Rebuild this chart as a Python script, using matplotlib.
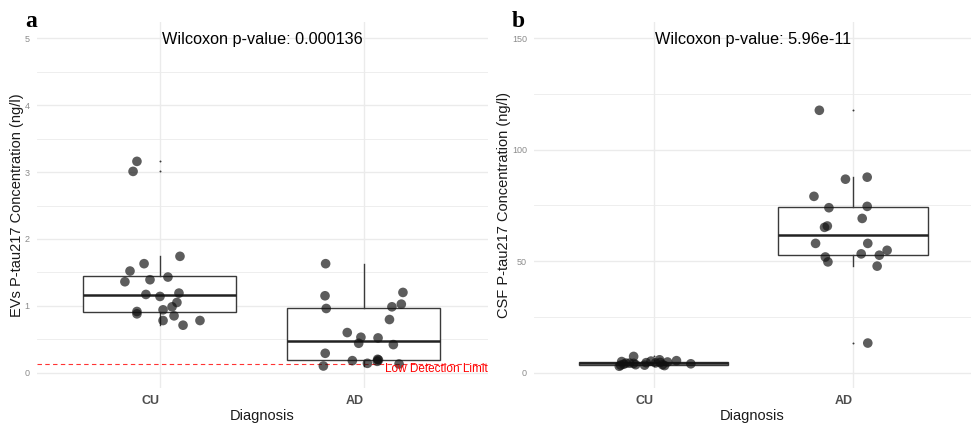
import matplotlib
matplotlib.use("Agg")
import matplotlib.pyplot as plt
import matplotlib.transforms as mtransforms
from matplotlib.ticker import MultipleLocator

plt.rcParams['font.family'] = ['Liberation Sans', 'DejaVu Sans']

categories = ["CU", "AD"]

# Panel a: EVs P-tau217 (ng/l)
ev_cu = [3.16, 3.01, 1.74, 1.63, 1.52, 1.36, 1.39, 1.43, 1.17, 1.14,
         1.19, 1.05, 0.985, 0.94, 0.915, 0.88, 0.85, 0.78, 0.78, 0.71]
ev_cu_jitter = [-0.113, -0.132, 0.098, -0.078, -0.147, -0.172, -0.049, 0.039, -0.069, 0.0,
                0.093, 0.083, 0.059, 0.015, -0.113, -0.113, 0.069, 0.015, 0.196, 0.113]
ev_ad = [1.63, 1.15, 0.96, 1.20, 1.025, 0.985, 0.795, 0.60, 0.53, 0.52,
         0.44, 0.42, 0.29, 0.18, 0.14, 0.20, 0.19, 0.13, 0.10, 0.17]
ev_ad_jitter = [-0.188, -0.191, -0.185, 0.191, 0.183, 0.137, 0.125, -0.082, -0.015, 0.069,
                -0.026, 0.144, -0.190, -0.057, 0.017, 0.067, 0.071, 0.172, -0.199, 0.065]
ev_lod = 0.13
ev_pvalue = "Wilcoxon p-value: 0.000136"

# Panel b: CSF P-tau217 (ng/l)
csf_cu = [2.9, 3.4, 5.0, 3.8, 4.3, 7.3, 4.2, 3.6, 3.4, 4.5,
          5.2, 4.4, 5.8, 4.6, 3.6, 3.2, 5.4, 4.0, 4.3, 4.8]
csf_cu_jitter = [-0.172, -0.165, -0.160, -0.150, -0.138, -0.100, -0.100, -0.090, -0.045, -0.037,
                 -0.013, 0.010, 0.030, 0.033, 0.045, 0.055, 0.115, 0.187, -0.120, 0.070]
csf_ad = [117.7, 86.8, 87.7, 79.1, 74.0, 74.6, 69.2, 65.8, 65.2, 58.0,
          58.0, 54.9, 53.3, 52.7, 51.9, 49.7, 47.8, 13.3]
csf_ad_jitter = [-0.168, -0.037, 0.072, -0.195, -0.120, 0.072, 0.047, -0.128, -0.142, -0.187,
                 0.075, 0.172, 0.042, 0.133, -0.138, -0.125, 0.122, 0.075]
csf_pvalue = "Wilcoxon p-value: 5.96e-11"

W, H = 971, 423
fig = plt.figure(figsize=(W / 100, H / 100), dpi=100)

def px_axes(x0, x1, y0, y1):
    return fig.add_axes([x0 / W, 1 - y1 / H, (x1 - x0) / W, (y1 - y0) / H])

ax_a = px_axes(36.7, 488, 22, 388)
ax_b = px_axes(534, 971, 22, 388)

GRID = '#ebebeb'
BOXC = '#3a3a3a'

def draw(ax, cu, cu_j, ad, ad_j):
    ax.boxplot([cu, ad], positions=[1, 2], widths=0.75, patch_artist=True,
               whis=1.5, showcaps=False,
               boxprops=dict(facecolor='white', edgecolor=BOXC, lw=1.0),
               whiskerprops=dict(color=BOXC, lw=1.0),
               medianprops=dict(color='#222222', lw=1.8),
               flierprops=dict(marker='o', markersize=1.4, markerfacecolor=BOXC,
                               markeredgecolor='none'),
               zorder=2)
    ax.scatter([1 + j for j in cu_j], cu, s=48, color='#111111', alpha=0.68,
               edgecolors='none', zorder=3)
    ax.scatter([2 + j for j in ad_j], ad, s=48, color='#111111', alpha=0.68,
               edgecolors='none', zorder=3)

def style(ax, ylim, xlim, major, minor, ylabel, ylab_x):
    ax.set_xlim(*xlim)
    ax.set_ylim(*ylim)
    for s in ax.spines.values():
        s.set_visible(False)
    ax.set_xticks([1, 2])
    ax.set_xticklabels(categories)
    ax.yaxis.set_major_locator(MultipleLocator(major))
    ax.yaxis.set_minor_locator(MultipleLocator(minor))
    ax.tick_params(axis='both', which='both', length=0)
    ax.tick_params(axis='y', labelsize=6.5, labelcolor='#8c8c8c', pad=5)
    ax.tick_params(axis='x', labelsize=9, labelcolor='#4d4d4d', pad=5)
    shift = mtransforms.ScaledTranslation(-9 / 100, 0, fig.dpi_scale_trans)
    for lab in ax.get_xticklabels():
        lab.set_fontweight('bold')
        lab.set_transform(lab.get_transform() + shift)
    ax.grid(True, which='major', axis='both', color=GRID, lw=1.0, zorder=0)
    ax.grid(True, which='minor', axis='y', color=GRID, lw=0.6, zorder=0)
    ax.set_axisbelow(True)
    ax.set_xlabel("Diagnosis", fontsize=10.5, color='#1a1a1a', va='center')
    ax.xaxis.set_label_coords(0.5, -28 / 366)
    ax.set_ylabel(ylabel, fontsize=10.5, color='#1a1a1a', va='center')
    ax.yaxis.set_label_coords(ylab_x, 0.5)

draw(ax_a, ev_cu, ev_cu_jitter, ev_ad, ev_ad_jitter)
style(ax_a, (-0.229, 5.244), (0.3956, 2.608), 1, 0.5,
      "EVs P-tau217 Concentration (ng/l)", -19.7 / 451.3)
ax_a.axhline(ev_lod, color='red', lw=0.8, ls=(0, (4, 3)), alpha=0.8, zorder=2.5)
ax_a.text(2.608, ev_lod - 0.078, "Low Detection Limit", color='red', fontsize=8.5,
          ha='right', va='center', zorder=4)
ax_a.annotate(ev_pvalue, xy=(1.5, 5), xytext=(0, -4.1), textcoords='offset points',
              ha='center', va='baseline', fontsize=11.7, color='black')

draw(ax_b, csf_cu, csf_cu_jitter, csf_ad, csf_ad_jitter)
style(ax_b, (-6.86, 157.3), (0.4, 2.593), 50, 25,
      "CSF P-tau217 Concentration (ng/l)", -30.5 / 437)
ax_b.annotate(csf_pvalue, xy=(1.5, 150), xytext=(0, -4.1), textcoords='offset points',
              ha='center', va='baseline', fontsize=11.7, color='black')

fig.text(25 / W, 1 - 26.7 / H, "a", family=['Liberation Serif'], fontweight='bold',
         fontsize=17, ha='left', va='baseline')
fig.text(512 / W, 1 - 26.7 / H, "b", family=['Liberation Serif'], fontweight='bold',
         fontsize=17, ha='left', va='baseline')

fig.savefig("out.png", dpi=100)
